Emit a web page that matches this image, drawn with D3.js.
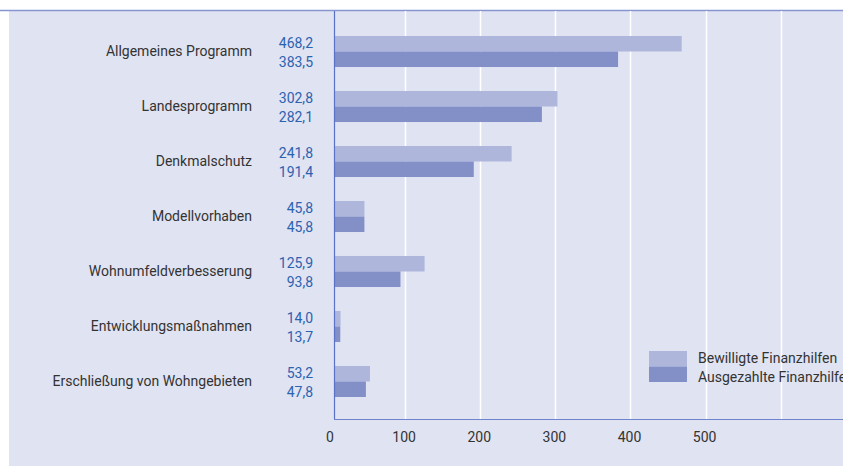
<!DOCTYPE html>
<html>
<head>
    <meta charset="utf-8">
    <title>Finanzhilfen</title>
    <script src="https://d3js.org/d3.v7.min.js"></script>
    <style>
        body { margin: 0; background: #fff; }
        text { font-family: "Liberation Sans Narrow", "Roboto", sans-serif; }
    </style>
</head>
<body>
<script>
    const categories = ["Allgemeines Programm", "Landesprogramm", "Denkmalschutz", "Modellvorhaben",
        "Wohnumfeldverbesserung", "Entwicklungsmaßnahmen", "Erschließung von Wohngebieten"];
    const series = ["Bewilligte Finanzhilfen", "Ausgezahlte Finanzhilfen"];
    const bewilligt = [468.2, 302.8, 241.8, 45.8, 125.9, 14.0, 53.2];
    const ausgezahlt = [383.5, 282.1, 191.4, 45.8, 93.8, 13.7, 47.8];
    const xTicks = [0, 100, 200, 300, 400, 500];
    const gridTicks = [100, 200, 300, 400, 500, 600];

    const W = 843, H = 466;
    const colors = ["#aeb6dc", "#8390c8"];

    const rows = categories.map(function(c, i) {
        return {cat: c, vals: [bewilligt[i], ausgezahlt[i]]};
    });

    const svg = d3.select("body").append("svg")
        .attr("width", W)
        .attr("height", H);

    // panel
    svg.append("rect")
        .attr("x", 9).attr("y", 11)
        .attr("width", W - 9).attr("height", H - 11)
        .attr("fill", "#e0e3f2");
    svg.append("line")
        .attr("x1", 0).attr("x2", W)
        .attr("y1", 10.5).attr("y2", 10.5)
        .attr("stroke", "#8796d0").attr("stroke-width", 1.5);

    const x = d3.scaleLinear().domain([0, 600]).range([330, 780.7]);
    const axisX = 334, axisY = 419, topY = 11;

    const y = d3.scaleBand()
        .domain(categories)
        .range([36, 397])
        .paddingInner(0.436)
        .paddingOuter(0);
    const ySub = d3.scaleBand()
        .domain(series)
        .range([0, y.bandwidth()]);

    // gridlines
    svg.append("g").selectAll("line")
        .data(gridTicks)
        .join("line")
        .attr("x1", d => Math.round(x(d)) + 0.5)
        .attr("x2", d => Math.round(x(d)) + 0.5)
        .attr("y1", topY).attr("y2", axisY)
        .attr("stroke", "#ffffff").attr("stroke-width", 1.5);

    // bars
    const groups = svg.append("g").selectAll("g")
        .data(rows)
        .join("g")
        .attr("transform", d => "translate(0," + y(d.cat) + ")");

    groups.selectAll("rect")
        .data(d => d.vals.map((v, j) => ({s: series[j], v: v, j: j})))
        .join("rect")
        .attr("x", axisX)
        .attr("y", d => ySub(d.s))
        .attr("width", d => x(d.v) - axisX)
        .attr("height", ySub.bandwidth())
        .attr("fill", d => colors[d.j]);

    // category labels
    groups.append("text")
        .attr("x", 252)
        .attr("y", y.bandwidth() / 2)
        .attr("dy", "0.35em")
        .attr("text-anchor", "end")
        .attr("font-size", 14)
        .attr("fill", "#333333")
        .text(d => d.cat);

    // value labels
    groups.selectAll("text.val")
        .data(d => d.vals.map((v, j) => ({v: v, j: j})))
        .join("text")
        .attr("class", "val")
        .attr("x", 313)
        .attr("y", d => y.bandwidth() / 2 + (d.j === 0 ? -8.5 : 10.5))
        .attr("dy", "0.35em")
        .attr("text-anchor", "end")
        .attr("font-size", 14)
        .attr("fill", "#2c62b0")
        .text(d => d3.format(".1f")(d.v).replace(".", ","));

    // axes lines
    svg.append("line")
        .attr("x1", axisX + 0.5).attr("x2", axisX + 0.5)
        .attr("y1", topY).attr("y2", axisY)
        .attr("stroke", "#5b72c4").attr("stroke-width", 1.2);
    svg.append("line")
        .attr("x1", axisX).attr("x2", W)
        .attr("y1", axisY + 0.5).attr("y2", axisY + 0.5)
        .attr("stroke", "#6f84cc").attr("stroke-width", 1.2);

    // x tick labels
    svg.append("g").selectAll("text")
        .data(xTicks)
        .join("text")
        .attr("x", d => x(d) + (d === 0 ? 0 : -1))
        .attr("y", 437)
        .attr("dy", "0.35em")
        .attr("text-anchor", "middle")
        .attr("font-size", 14)
        .attr("fill", "#333333")
        .text(d => d);

    // legend
    const legend = svg.append("g").attr("transform", "translate(649,351)");
    series.forEach(function(s, i) {
        legend.append("rect")
            .attr("x", 0).attr("y", i * 15.5)
            .attr("width", 38).attr("height", 15.5)
            .attr("fill", colors[i]);
        legend.append("text")
            .attr("x", 49)
            .attr("y", 7 + i * 19)
            .attr("dy", "0.35em")
            .attr("font-size", 14)
            .attr("fill", "#333333")
            .text(s);
    });
</script>
</body>
</html>
